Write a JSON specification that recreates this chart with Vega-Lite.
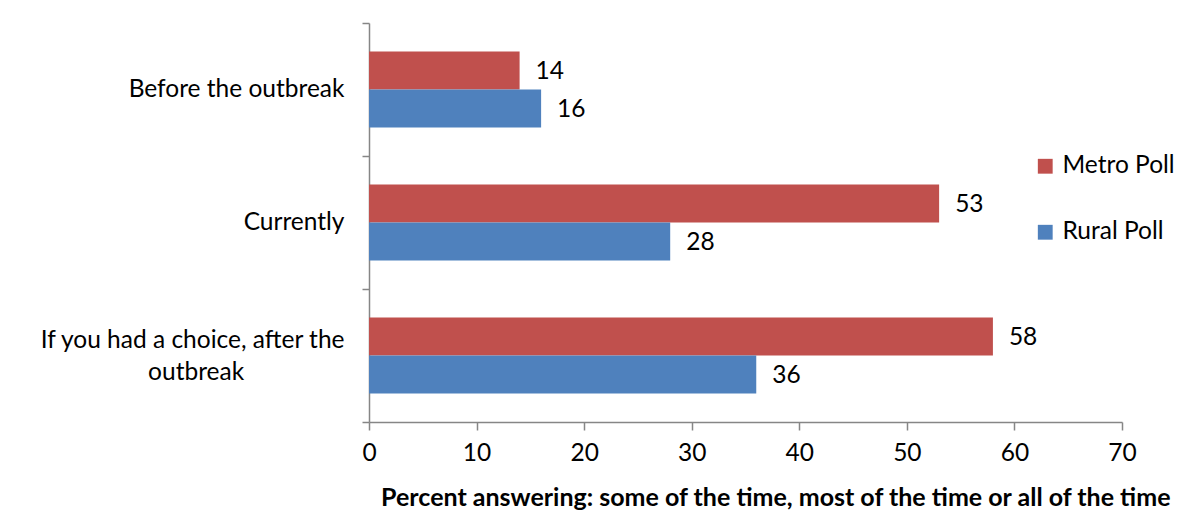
{
  "$schema": "https://vega.github.io/schema/vega-lite/v6.json",
  "autosize": "none",
  "width": 753,
  "height": 399,
  "padding": {"left": 369, "top": 23, "right": 59, "bottom": 104},
  "background": "white",
  "config": {"view": {"stroke": null}, "font": "Lato"},
  "data": {
    "values": [
      {"q": "Before the outbreak", "poll": "Metro Poll", "value": 14},
      {"q": "Before the outbreak", "poll": "Rural Poll", "value": 16},
      {"q": "Currently", "poll": "Metro Poll", "value": 53},
      {"q": "Currently", "poll": "Rural Poll", "value": 28},
      {"q": "If you had a choice, after the outbreak", "poll": "Metro Poll", "value": 58},
      {"q": "If you had a choice, after the outbreak", "poll": "Rural Poll", "value": 36}
    ]
  },
  "encoding": {
    "y": {
      "field": "q",
      "type": "nominal",
      "sort": ["Before the outbreak", "Currently", "If you had a choice, after the outbreak"],
      "scale": {"paddingInner": 0, "paddingOuter": 0},
      "axis": {
        "title": null,
        "domainColor": "#868686",
        "domainWidth": 1.5,
        "tickColor": "#868686",
        "tickWidth": 1.5,
        "tickSize": 7,
        "tickBand": "extent",
        "labelPadding": 18,
        "labelFontSize": 24.5,
        "labelColor": "black",
        "labelLimit": 400,
        "labelLineHeight": 32,
        "labelOffset": {"condition": {"test": "datum.value == 'If you had a choice, after the outbreak'", "value": -15}, "value": 0},
        "labelExpr": "datum.value == 'If you had a choice, after the outbreak' ? ['If you had a choice, after the', 'outbreak\u00a0\u00a0\u00a0\u00a0\u00a0\u00a0\u00a0\u00a0\u00a0\u00a0\u00a0\u00a0\u00a0\u00a0\u00a0\u00a0\u200b'] : datum.value"
      }
    },
    "yOffset": {
      "field": "poll",
      "type": "nominal",
      "sort": ["Metro Poll", "Rural Poll"],
      "scale": {"paddingInner": 0, "paddingOuter": 0.75}
    },
    "x": {
      "field": "value",
      "type": "quantitative",
      "scale": {"domain": [0, 70], "nice": false},
      "axis": {
        "values": [0, 10, 20, 30, 40, 50, 60, 70],
        "grid": false,
        "labelFlush": false,
        "domainColor": "#868686",
        "domainWidth": 1.5,
        "tickColor": "#868686",
        "tickWidth": 1.5,
        "tickSize": 8,
        "labelPadding": 11,
        "labelFontSize": 24.5,
        "labelColor": "black",
        "title": "Percent answering: some of the time, most of the time or all of the time",
        "titleFontSize": 25,
        "titleFontWeight": "bold",
        "titleColor": "black",
        "titleX": 801,
        "titleAlign": "right",
        "titleY": 83,
        "titleBaseline": "alphabetic"
      }
    }
  },
  "layer": [
    {
      "mark": {"type": "bar"},
      "encoding": {
        "color": {
          "field": "poll",
          "type": "nominal",
          "scale": {"domain": ["Metro Poll", "Rural Poll"], "range": ["#C0504D", "#4F81BD"]},
          "legend": {
            "title": null,
            "orient": "none",
            "legendX": 664,
            "legendY": 131,
            "symbolType": "square",
            "symbolSize": 220,
            "symbolStrokeWidth": 0,
            "labelFontSize": 24.5,
            "labelColor": "black",
            "rowPadding": 41,
            "labelOffset": 5
          }
        }
      }
    },
    {
      "mark": {"type": "text", "align": "left", "baseline": "middle", "dx": 16, "dy": 1, "fontSize": 24.5, "color": "black"},
      "encoding": {"text": {"field": "value", "type": "quantitative"}}
    }
  ]
}
